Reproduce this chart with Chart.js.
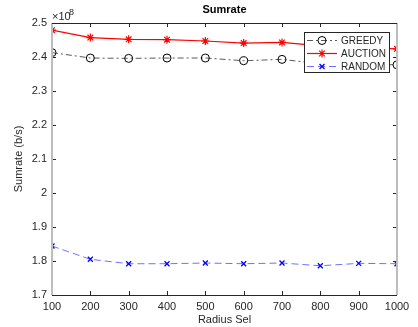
<!DOCTYPE html>
<html><head><meta charset="utf-8">
<script src="https://cdn.jsdelivr.net/npm/chart.js@4"></script>
<style>html,body{margin:0;padding:0;background:#fff}#c{display:block}</style>
</head><body>
<canvas id="c" width="418" height="327"></canvas>
<script>
const radius  = [100, 200, 300, 400, 500, 600, 700, 800, 900, 1000];
const greedy  = [2.413e8, 2.397e8, 2.396e8, 2.397e8, 2.397e8, 2.389e8, 2.393e8, 2.380e8, 2.379e8, 2.377e8];
const auction = [2.479e8, 2.457e8, 2.452e8, 2.451e8, 2.447e8, 2.441e8, 2.443e8, 2.433e8, 2.428e8, 2.424e8];
const random  = [1.844e8, 1.805e8, 1.792e8, 1.792e8, 1.794e8, 1.792e8, 1.794e8, 1.786e8, 1.793e8, 1.792e8];
const xTicks  = [100, 200, 300, 400, 500, 600, 700, 800, 900, 1000];
const yTicks  = [1.7, 1.8, 1.9, 2.0, 2.1, 2.2, 2.3, 2.4, 2.5];
const labels  = ['GREEDY', 'AUCTION', 'RANDOM'];

const FONT = 'Liberation Sans, Arial, Helvetica, sans-serif';
const TXT = '#262626';
const pts = arr => radius.map((r, i) => ({x: r, y: arr[i]}));

const datasets = [
  {label: labels[0], data: pts(greedy), borderColor: '#5a5a5a', borderWidth: 1, borderDash: [6,3,2,3],
   pointStyle: 'circle', pointRadius: 4, pointBorderColor: '#000', pointBackgroundColor: 'rgba(0,0,0,0)', pointBorderWidth: 1},
  {label: labels[1], data: pts(auction), borderColor: '#ff0000', borderWidth: 1.2,
   pointStyle: 'star', pointRadius: 4, pointBorderColor: '#ff0000', pointBackgroundColor: '#ff0000', pointBorderWidth: 1.2},
  {label: labels[2], data: pts(random), borderColor: '#7070ff', borderWidth: 1, borderDash: [7,4],
   pointStyle: 'crossRot', pointRadius: 3.5, pointBorderColor: '#0000ff', pointBackgroundColor: '#0000ff', pointBorderWidth: 1.3}
];

const framePlugin = {
  id: 'frame',
  afterDraw(chart) {
    const ctx = chart.ctx, a = chart.chartArea, xs = chart.scales.x, ys = chart.scales.y;
    ctx.save();
    ctx.strokeStyle = '#262626'; ctx.lineWidth = 1;
    const L = 4;
    xTicks.forEach(v => {
      const px = Math.round(xs.getPixelForValue(v)) + 0.5;
      ctx.beginPath(); ctx.moveTo(px, a.bottom); ctx.lineTo(px, a.bottom - L);
      ctx.moveTo(px, a.top); ctx.lineTo(px, a.top + L); ctx.stroke();
    });
    yTicks.forEach(v => {
      const py = Math.round(ys.getPixelForValue(v * 1e8)) + 0.5;
      ctx.beginPath(); ctx.moveTo(a.left, py); ctx.lineTo(a.left + L, py);
      ctx.moveTo(a.right, py); ctx.lineTo(a.right - L, py); ctx.stroke();
    });
    ctx.strokeStyle = '#bdbdbd'; ctx.lineWidth = 2;
    ctx.beginPath(); ctx.moveTo(a.left, a.top); ctx.lineTo(a.left, a.bottom);
    ctx.moveTo(a.right, a.top); ctx.lineTo(a.right, a.bottom); ctx.stroke();
    ctx.strokeStyle = '#262626'; ctx.lineWidth = 1;
    ctx.beginPath();
    ctx.moveTo(a.left, Math.round(a.top) + 0.5); ctx.lineTo(a.right, Math.round(a.top) + 0.5);
    ctx.moveTo(a.left, Math.round(a.bottom) + 0.5); ctx.lineTo(a.right, Math.round(a.bottom) + 0.5);
    ctx.stroke();

    ctx.fillStyle = '#000';
    ctx.font = 'bold 11px ' + FONT;
    ctx.textAlign = 'center'; ctx.textBaseline = 'middle';
    ctx.fillText('Sumrate', (a.left + a.right) / 2, 10);
    ctx.fillStyle = TXT;
    ctx.font = '11px ' + FONT;
    ctx.textAlign = 'left'; ctx.textBaseline = 'alphabetic';
    ctx.fillText('\u00d710', a.left, 20);
    ctx.font = '9px ' + FONT;
    ctx.fillText('8', a.left + 17, 15);
    ctx.font = '11px ' + FONT;
    ctx.textAlign = 'center'; ctx.textBaseline = 'middle';
    ctx.fillText('Radius Sel', (a.left + a.right) / 2, 320);
    ctx.save();
    ctx.translate(19, (a.top + a.bottom) / 2);
    ctx.rotate(-Math.PI / 2);
    ctx.fillText('Sumrate (b/s)', 0, 0);
    ctx.restore();

    const bx = 304.5, by = 32.5, bw = 85, bh = 40;
    ctx.fillStyle = '#fff'; ctx.fillRect(bx, by, bw, bh);
    ctx.strokeStyle = '#262626'; ctx.lineWidth = 1; ctx.strokeRect(bx, by, bw, bh);
    const rowsY = [40, 53, 66];
    datasets.forEach((d, i) => {
      const y = rowsY[i] + 0.5;
      ctx.save();
      ctx.strokeStyle = d.borderColor; ctx.lineWidth = d.borderWidth;
      ctx.setLineDash(d.borderDash || []);
      ctx.beginPath(); ctx.moveTo(307, y); ctx.lineTo(337, y); ctx.stroke();
      ctx.setLineDash([]);
      ctx.strokeStyle = d.pointBorderColor; ctx.fillStyle = d.pointBackgroundColor;
      ctx.lineWidth = d.pointBorderWidth;
      Chart.helpers.drawPoint(ctx, {pointStyle: d.pointStyle, radius: d.pointRadius, rotation: 0, borderWidth: d.pointBorderWidth}, 322, y);
      ctx.restore();
      ctx.fillStyle = TXT; ctx.font = '10px ' + FONT;
      ctx.textAlign = 'left'; ctx.textBaseline = 'middle';
      ctx.fillText(d.label, 341, y + 0.5);
    });
    ctx.restore();
  }
};

new Chart(document.getElementById('c'), {
  type: 'line',
  data: {datasets},
  options: {
    responsive: false, animation: false,
    layout: {padding: {top: 23, right: 21, left: 0, bottom: 0}},
    plugins: {legend: {display: false}, tooltip: {enabled: false}, title: {display: false}},
    elements: {line: {tension: 0}},
    scales: {
      x: {type: 'linear', min: 100, max: 1000,
          afterBuildTicks: s => { s.ticks = xTicks.map(v => ({value: v})); },
          afterFit: s => { s.height = 32; },
          grid: {display: false, drawTicks: false}, border: {display: false},
          ticks: {color: TXT, font: {size: 11, family: FONT}, padding: 5, maxRotation: 0, autoSkip: false,
                  callback: v => String(v)}},
      y: {type: 'linear', min: 1.7e8, max: 2.5e8,
          afterBuildTicks: s => { s.ticks = yTicks.map(v => ({value: v * 1e8})); },
          afterFit: s => { s.width = 52; },
          grid: {display: false, drawTicks: false}, border: {display: false},
          ticks: {color: TXT, font: {size: 11, family: FONT}, padding: 5,
                  callback: v => String(Math.round(v / 1e7) / 10)}}
    }
  },
  plugins: [framePlugin]
});
</script>
</body></html>
